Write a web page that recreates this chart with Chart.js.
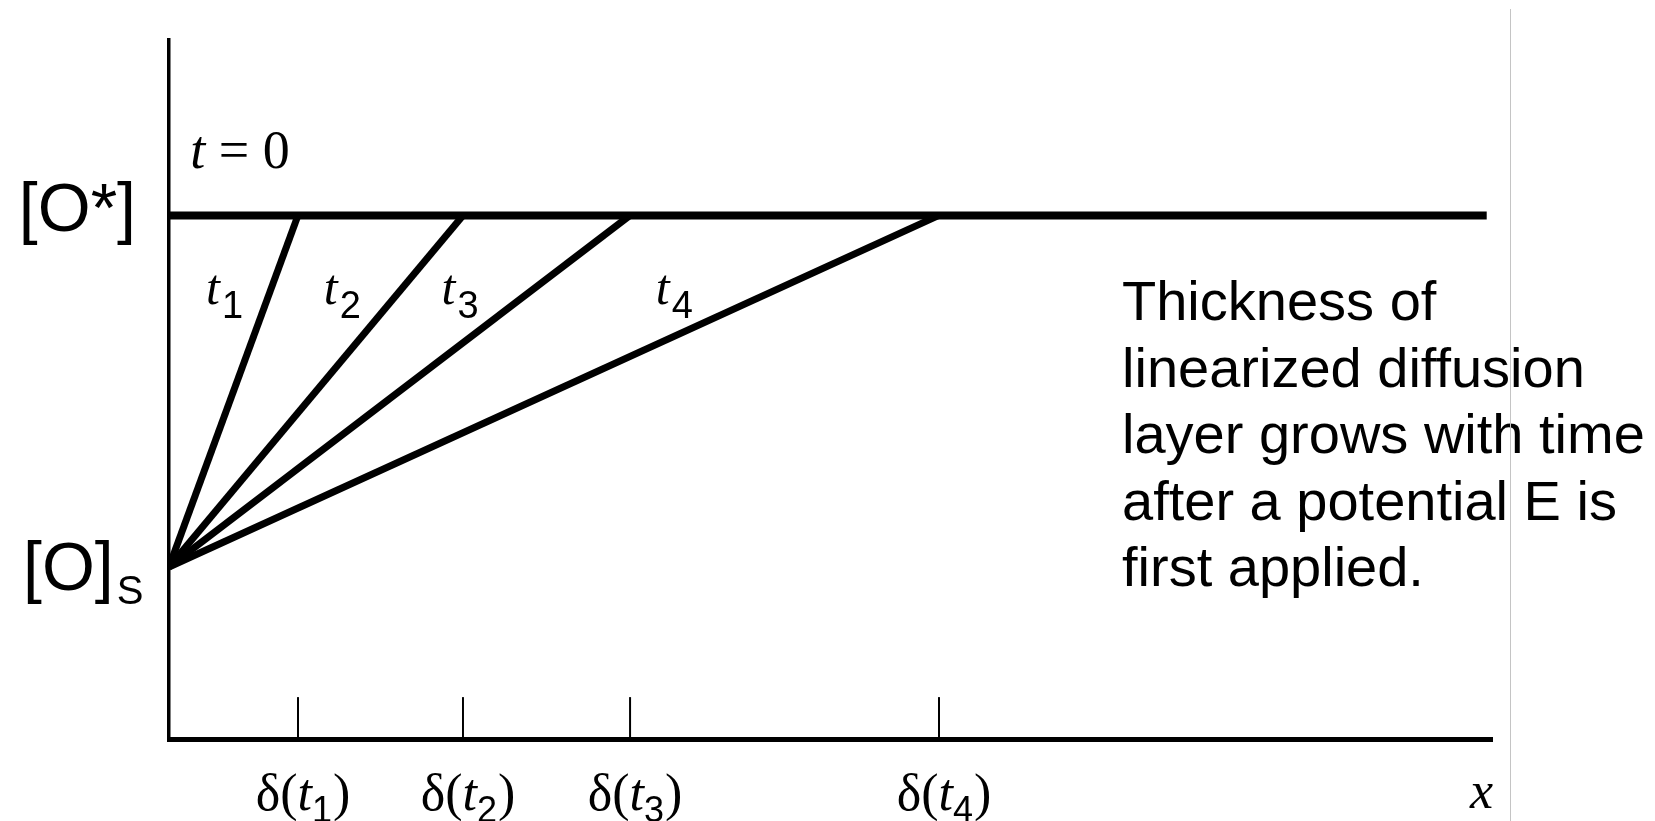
<!DOCTYPE html>
<html>
<head>
<meta charset="utf-8">
<script src="https://cdn.jsdelivr.net/npm/chart.js@4.4.1/dist/chart.umd.min.js"></script>
<style>
  html, body { margin: 0; padding: 0; background: #ffffff; }
  #wrap { position: relative; width: 1655px; height: 821px; overflow: hidden; background: #fff; }
  #c { position: absolute; left: 0; top: 0; }
  #note {
    position: absolute; left: 1122px; top: 268px;
    font-family: "Liberation Sans", Arial, sans-serif; font-size: 56px; line-height: 66.5px;
    color: #000; white-space: nowrap;
  }
  #frame { position: absolute; left: 1510px; top: 9px; width: 1px; height: 812px; background: #c4c4c4; }
</style>
</head>
<body>
<div id="wrap">
  <canvas id="c" width="1655" height="821"></canvas>
  <div id="note">Thickness of<br>linearized diffusion<br>layer grows with time<br>after a potential E is<br>first applied.</div>
  <div id="frame"></div>
</div>
<script>
// ---- data (arbitrary units) ----
const concBulk = 1.0;                            // [O*]
const concSurface = 0.3286;                      // [O]s at x = 0
const deltaValues = [0.975, 2.222, 3.485, 5.82]; // δ(t1) .. δ(t4)
const timeSubscripts = ['1', '2', '3', '4'];     // t1 .. t4
const bulkLineEnd = 9.96;                        // extent of the t = 0 line
const tickMarkHeight = 0.08;                     // height of δ tick marks
const xMax = 10;
const yMax = 1.335;

const SERIF = '"Liberation Serif", "Times New Roman", serif';
const SANS = '"Liberation Sans", Arial, sans-serif';

// ---- datasets built from the arrays ----
const datasets = [];
datasets.push({
  label: 't = 0',
  data: [{x: 0, y: concBulk}, {x: bulkLineEnd, y: concBulk}],
  borderColor: '#000', borderWidth: 8
});
deltaValues.forEach((d, i) => {
  datasets.push({
    label: 't' + timeSubscripts[i],
    data: [{x: 0, y: concSurface}, {x: d, y: concBulk}],
    borderColor: '#000', borderWidth: 7
  });
});
deltaValues.forEach((d, i) => {
  datasets.push({
    label: 'tick' + timeSubscripts[i],
    data: [{x: d, y: 0}, {x: d, y: tickMarkHeight}],
    borderColor: '#000', borderWidth: 2
  });
});

// rich text helper: segments [{t, font, dy, gap}]
function drawRich(ctx, segs, x, y, align) {
  let total = 0;
  segs.forEach(s => { ctx.font = s.font; s.w = ctx.measureText(s.t).width; total += s.w + (s.gap || 0); });
  let cx = x;
  if (align === 'center') cx = x - total / 2;
  else if (align === 'right') cx = x - total;
  segs.forEach(s => {
    ctx.font = s.font;
    ctx.fillText(s.t, cx + (s.gap || 0), y + (s.dy || 0));
    cx += s.w + (s.gap || 0);
  });
}

const labelPlugin = {
  id: 'labels',
  afterDraw(chart) {
    const ctx = chart.ctx;
    const xs = chart.scales.x, ys = chart.scales.y;
    const area = chart.chartArea;
    ctx.save();
    ctx.fillStyle = '#000';
    ctx.textBaseline = 'alphabetic';
    ctx.textAlign = 'left';

    // y-level labels
    const yBulk = ys.getPixelForValue(concBulk);
    const ySurf = ys.getPixelForValue(concSurface);
    drawRich(ctx, [{t: '[O*]', font: '68px ' + SANS}], area.left - 33, yBulk + 16, 'right');
    drawRich(ctx, [
      {t: '[O]', font: '68px ' + SANS},
      {t: 'S', font: '40px ' + SANS, dy: 14, gap: 3}
    ], 23, ySurf + 23, 'left');

    // t = 0
    drawRich(ctx, [
      {t: 't', font: 'italic 54px ' + SERIF},
      {t: ' = 0', font: '54px ' + SERIF}
    ], xs.getPixelForValue(0.16), ys.getPixelForValue(1.091), 'left');

    // t_i labels next to lines
    const tLabelX = [0.28, 1.17, 2.06, 3.68];
    timeSubscripts.forEach((s, i) => {
      drawRich(ctx, [
        {t: 't', font: 'italic 50px ' + SERIF},
        {t: s, font: '38px ' + SANS, dy: 14, gap: 2}
      ], xs.getPixelForValue(tLabelX[i]), ys.getPixelForValue(0.831), 'left');
    });

    // δ(t_i) tick labels
    deltaValues.forEach((d, i) => {
      drawRich(ctx, [
        {t: 'δ(', font: '52px ' + SERIF},
        {t: 't', font: 'italic 52px ' + SERIF},
        {t: timeSubscripts[i], font: '36px ' + SANS, dy: 12},
        {t: ')', font: '52px ' + SERIF, gap: 1}
      ], xs.getPixelForValue(d) + 5, area.bottom + 71, 'center');
    });

    // x axis label
    drawRich(ctx, [{t: 'x', font: 'italic 52px ' + SERIF}], area.right + 1, area.bottom + 69, 'right');
    ctx.restore();
  }
};

new Chart(document.getElementById('c'), {
  type: 'scatter',
  data: { datasets },
  options: {
    responsive: false,
    animation: false,
    showLine: true,
    layout: { padding: { left: 169, right: 163, top: 40, bottom: 82 } },
    elements: { point: { radius: 0, hoverRadius: 0 }, line: { tension: 0, borderCapStyle: 'butt' } },
    plugins: { legend: { display: false }, tooltip: { enabled: false }, title: { display: false } },
    scales: {
      x: {
        type: 'linear', min: 0, max: xMax,
        grid: { display: false, drawTicks: false, tickLength: 0 },
        ticks: { display: false },
        border: { display: true, color: '#000', width: 5 }
      },
      y: {
        type: 'linear', min: 0, max: yMax,
        grid: { display: false, drawTicks: false, tickLength: 0 },
        ticks: { display: false },
        border: { display: true, color: '#000', width: 3.5 }
      }
    }
  },
  plugins: [labelPlugin]
});
</script>
</body>
</html>
